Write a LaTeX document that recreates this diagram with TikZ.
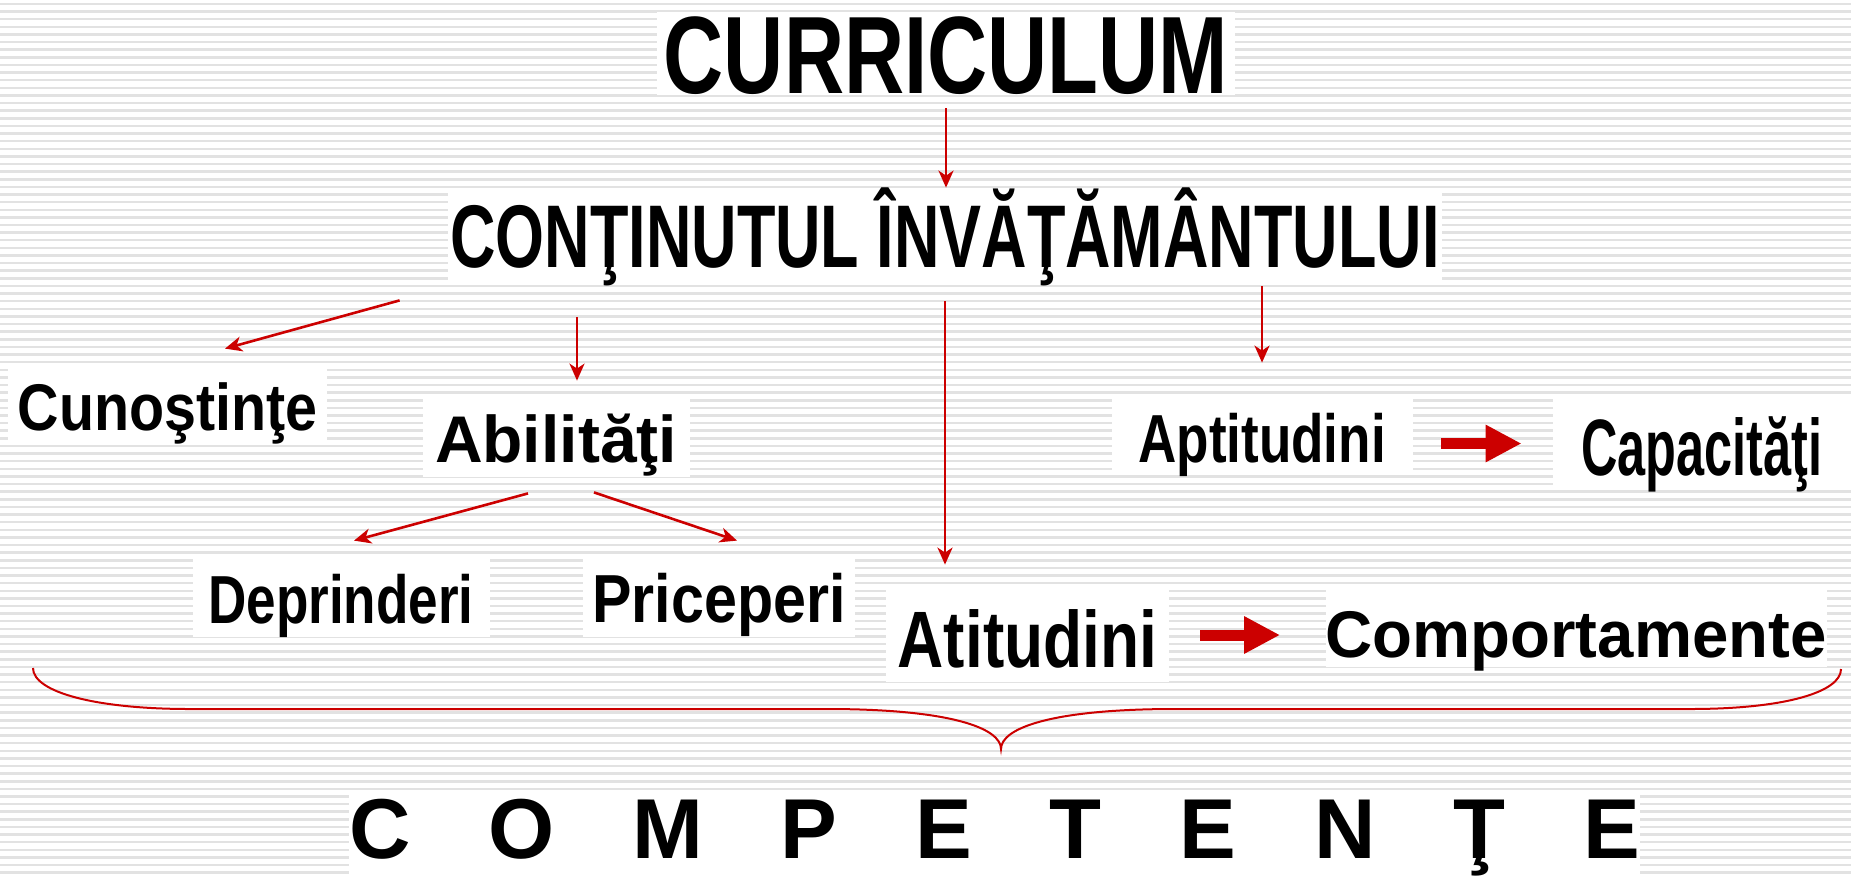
\documentclass[tikz,border=0pt]{standalone}
\usepackage{fontspec}
\setmainfont{Liberation Sans}
\usepackage{graphicx}
\usetikzlibrary{arrows.meta,calc}
\definecolor{arrowred}{HTML}{CC0000}
\definecolor{stripe}{HTML}{E2E2E2}
\newcommand{\sz}[1]{\fontsize{#1}{#1}\selectfont\bfseries}
\newcommand{\sq}[2]{\scalebox{#1}[1]{#2}}

\begin{document}
\begin{tikzpicture}[x=0.5pt,y=-0.5pt]
    \tikzstyle{word} = [fill=white,inner sep=0pt,anchor=base]
    \tikzstyle{link} = [arrowred,line width=1.3pt,-{Stealth[length=8.5pt,width=7.5pt,inset=2.5pt]}]
    \tikzstyle{fat} = [arrowred,line width=5.5pt,-{Triangle[length=18pt,width=17.5pt]}]

    \useasboundingbox (0,0) rectangle (1851,875);
    \fill[white] (0,0) rectangle (1851,875);
    \foreach \i in {0,...,114}
        \draw[stripe,line width=1.25pt] (0,4+7.62*\i) -- (1851,4+7.62*\i);

    \node[word,font=\sz{55pt},minimum width=289pt,text height=40.5pt,text depth=1pt] (curr) at (946,93) {\sq{0.757}{CURRICULUM}};
    \node[word,font=\sz{44.5pt},minimum width=497pt,text height=39.5pt,text depth=7.5pt] (cont) at (945,267) {\sq{0.707}{CONŢINUTUL ÎNVĂŢĂMÂNTULUI}};

    \node[word,font=\sz{33pt},minimum width=159.5pt,text height=32.5pt,text depth=6.5pt] (cuno) at (167.5,430) {\sq{0.87}{Cunoştinţe}};
    \node[word,font=\sz{33pt},minimum width=133.5pt,text height=32.5pt,text depth=7.5pt] (abil) at (556,462) {\sq{1.0}{Abilităţi}};
    \node[word,font=\sz{34pt},minimum width=150.5pt,text height=32.5pt,text depth=6.5pt] (apti) at (1262,462) {\sq{0.78}{Aptitudini}};
    \node[word,font=\sz{40pt},minimum width=149pt,text height=39pt,text depth=7.5pt] (capa) at (1702,475) {\sq{0.63}{Capacităţi}};

    \node[word,font=\sz{34pt},minimum width=148.5pt,text height=33pt,text depth=7pt] (depr) at (341,623) {\sq{0.78}{Deprinderi}};
    \node[word,font=\sz{34pt},minimum width=136pt,text height=32.5pt,text depth=7.5pt] (pric) at (719,622) {\sq{0.87}{Priceperi}};
    \node[word,font=\sz{40pt},minimum width=141.5pt,text height=39.5pt,text depth=7.5pt] (atit) at (1027.5,667) {\sq{0.80}{Atitudini}};
    \node[word,font=\sz{33pt},minimum width=250pt,text height=34pt,text depth=5pt] (comp) at (1576,657) {\sq{0.99}{Comportamente}};

    \node[word,font=\sz{42.5pt},minimum width=640.5pt,text height=31.5pt,text depth=8.5pt] (compet) at (994.5,858)
        {C\hspace{38.9pt}O\hspace{38.9pt}M\hspace{38.9pt}P\hspace{38.9pt}E\hspace{38.9pt}T\hspace{38.9pt}E\hspace{38.9pt}N\hspace{38.9pt}Ţ\hspace{38.9pt}E};

    \draw[link,shorten <=6.5pt] (curr.south) -- (curr.south |- cont.north);
    \draw[link] ($(cont.south west)+(-48,18)$) -- ($(cuno.north)+(57.5,-16)$);
    \draw[link] ($(abil.north |- cont.south)+(21,35)$) -- ($(abil.north)+(21,-16)$);
    \draw[link,shorten <=9.5pt,shorten >=11.5pt] (cont.south) -- (cont.south |- atit.north);
    \draw[link,shorten <=2pt,shorten >=17pt] (apti.north |- cont.south) -- (apti.north);

    \draw[link] ($(abil.south)+(-28,16)$) -- ($(depr.north)+(13,-16)$);
    \draw[link] ($(abil.south)+(38,15)$) -- ($(pric.north)+(18,-16)$);

    \draw[fat,shorten <=14.25pt,shorten >=15.5pt] (apti.east |- capa.west) -- (capa.west);
    \draw[fat,shorten <=15.5pt,shorten >=22.5pt] (atit.east) -- (atit.east -| comp.west);

    % accolada
    \draw[arrowred,line width=1pt] (33,668) .. controls (33,692) and (95,709) .. (190,709) -- (827,709)
        .. controls (950,709) and (1001,728) .. (1001,749) .. controls (1001,728) and (1052,709) .. (1175,709)
        -- (1690,709) .. controls (1785,709) and (1841,692) .. (1841,669);

\end{tikzpicture}
\end{document}
